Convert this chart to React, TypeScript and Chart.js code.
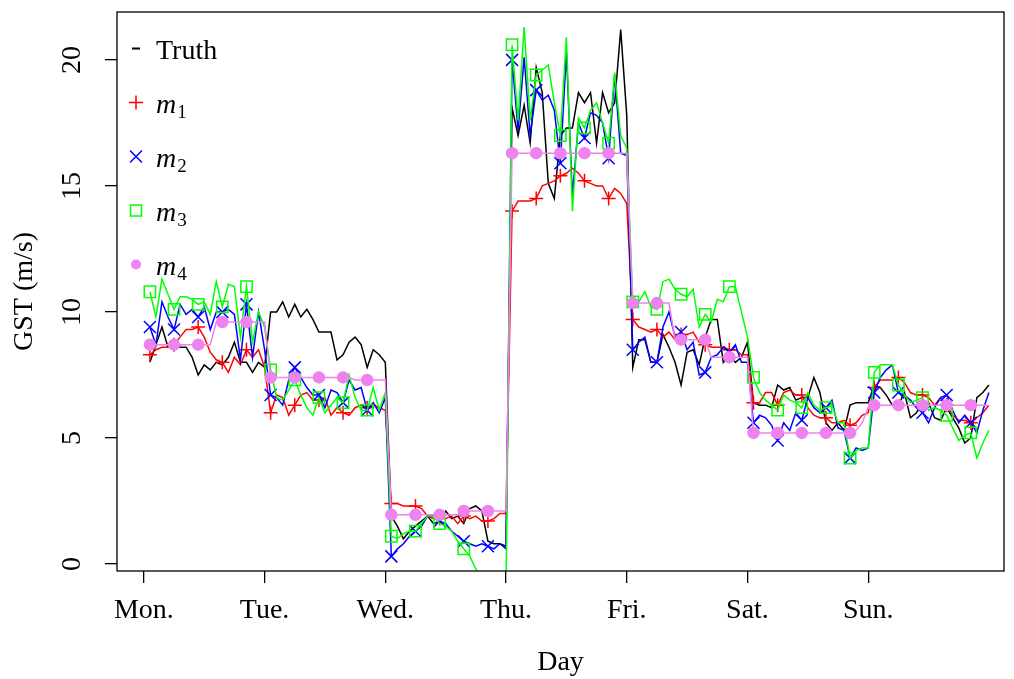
import React, { useEffect, useRef } from 'react';
import { Chart, registerables } from 'chart.js';

Chart.register(...registerables);

// ---------- data ----------
const dayLabels = ['Mon.', 'Tue.', 'Wed.', 'Thu.', 'Fri.', 'Sat.', 'Sun.'];
const dayTickIndex = [-1, 19, 39, 59, 79, 99, 119];
const yTickValues = [0, 5, 10, 15, 20];
const seriesNames = ['Truth', 'm1', 'm2', 'm3', 'm4'];
const xLabel = 'Day';
const yLabel = 'GST (m/s)';

const truth = [
  8.0, 8.7, 9.4, 8.6, 8.6, 8.6, 8.6, 8.2, 7.5, 7.9, 7.7, 8.0, 7.9, 8.2, 8.8, 8.0, 8.0, 7.6, 8.0, 7.8,
  10.0, 10.0, 10.4, 9.8, 10.3, 9.8, 10.1, 9.7, 9.2, 9.2, 9.2, 8.1, 8.3, 8.8, 9.0, 8.7, 7.8, 8.5, 8.3, 8.0,
  1.9, 1.5, 1.0, 1.3, 1.5, 1.7, 1.9, 1.6, 1.7, 2.1, 1.8, 1.9, 1.6, 2.2, 2.3, 2.1, 0.9, 0.8, 0.8, 0.7,
  18.1, 17.0, 18.2, 16.7, 19.7, 18.7, 15.1, 14.5, 17.0, 17.3, 17.3, 18.7, 18.3, 18.7, 16.7, 18.7, 17.9, 18.3, 21.2, 17.8,
  7.8, 8.9, 8.9, 8.0, 8.0, 9.1, 8.6, 8.0, 7.1, 8.4, 8.5, 7.9, 9.0, 9.7, 9.7, 8.0, 8.3, 8.0, 8.2, 8.8,
  6.4, 6.3, 6.3, 6.2, 7.1, 6.9, 7.0, 6.5, 6.6, 6.6, 7.4, 6.8, 5.6, 5.3, 5.6, 5.3, 6.3, 6.4, 6.4, 6.4,
  7.1, 7.0, 6.7, 6.3, 6.3, 6.8, 5.8, 6.0, 6.4, 6.4, 5.8, 5.7, 6.2, 5.8, 5.4, 4.8, 5.0, 6.6, 6.8, 7.1,
];

const m1 = [
  8.3, 8.5, 8.6, 8.6, 8.7, 9.0, 9.3, 9.3, 9.4, 9.0, 8.4, 8.1, 8.0, 7.6, 8.2, 7.9, 8.5, 8.2, 8.5, 7.8,
  6.0, 6.7, 6.6, 5.9, 6.3, 6.7, 6.8, 6.5, 6.5, 6.6, 5.9, 6.2, 6.0, 5.9, 6.2, 6.3, 6.2, 6.3, 6.2, 6.1,
  2.4, 2.4, 2.3, 2.3, 2.3, 2.2, 1.9, 1.8, 1.8, 1.8, 1.9, 1.6, 1.9, 1.8, 1.9, 1.7, 1.7, 1.8, 2.0, 2.0,
  14.0, 14.4, 14.4, 14.4, 14.5, 15.0, 15.1, 15.2, 15.4, 15.5, 15.7, 15.5, 15.2, 15.1, 15.0, 15.0, 14.5, 14.9, 14.7, 14.3,
  9.7, 9.4, 9.3, 9.2, 9.3, 9.0, 9.2, 8.9, 9.1, 9.1, 9.2, 8.8, 8.7, 8.6, 8.6, 8.6, 8.5, 8.5, 8.3, 8.3,
  6.4, 6.4, 6.8, 6.8, 6.3, 6.8, 6.9, 6.7, 6.7, 6.2, 5.9, 5.8, 5.8, 5.6, 5.6, 5.7, 5.5, 5.6, 5.9, 6.0,
  7.0, 7.3, 7.3, 7.3, 7.4, 7.2, 6.8, 6.7, 6.7, 6.6, 6.3, 6.6, 6.3, 5.9, 5.7, 5.7, 5.6, 5.8, 6.0, 6.3,
];

const m2 = [
  9.4, 8.7, 10.4, 9.8, 9.3, 10.3, 9.9, 10.1, 9.8, 10.2, 9.3, 10.0, 10.0, 10.1, 9.9, 8.1, 10.3, 8.2, 10.0, 8.5,
  6.7, 6.6, 6.3, 7.3, 7.8, 7.4, 7.0, 6.7, 6.7, 6.2, 6.9, 6.8, 6.4, 7.3, 6.9, 7.0, 6.1, 6.4, 6.0, 6.6,
  0.3, 0.6, 0.8, 1.1, 1.3, 1.5, 1.9, 1.9, 1.7, 1.6, 1.3, 1.1, 0.9, 0.8, 0.7, 0.8, 0.7, 0.6, 0.8, 0.6,
  20.0, 17.2, 20.1, 17.0, 18.8, 18.4, 18.6, 18.0, 15.9, 20.3, 14.6, 17.5, 16.9, 17.9, 17.8, 17.5, 16.1, 19.4, 16.3, 16.2,
  8.5, 8.8, 9.0, 8.0, 8.0, 9.4, 10.0, 9.0, 9.2, 8.5, 8.8, 7.5, 7.6, 8.2, 8.3, 8.6, 8.4, 8.7, 8.0, 8.0,
  5.6, 5.9, 5.8, 5.5, 4.9, 5.6, 5.3, 6.0, 5.7, 6.6, 6.2, 6.0, 6.2, 6.5, 5.4, 5.3, 4.2, 4.6, 4.5, 4.6,
  6.8, 7.4, 7.7, 7.9, 6.8, 6.7, 6.5, 6.2, 6.0, 5.6, 6.2, 6.6, 6.7, 6.1, 5.6, 5.9, 5.6, 5.2, 6.1, 6.8,
];

const m3 = [
  10.8, 9.8, 11.3, 10.7, 10.1, 10.6, 10.6, 10.5, 10.3, 10.4, 9.9, 11.2, 10.2, 11.1, 11.0, 9.0, 11.0, 8.8, 10.0, 9.4,
  7.7, 6.6, 6.5, 6.9, 7.3, 6.7, 6.2, 5.9, 6.6, 6.0, 6.3, 6.6, 6.4, 7.5, 6.6, 6.1, 6.1, 7.0, 6.1, 6.8,
  1.1, 1.0, 1.2, 1.3, 1.3, 1.6, 1.9, 1.9, 1.6, 1.5, 1.3, 0.9, 0.6, 0.3, -0.2, -0.6, -0.8, -0.9, -1.0, -1.0,
  20.6, 17.6, 21.3, 17.6, 19.4, 19.6, 19.8, 18.3, 17.0, 20.9, 14.0, 17.7, 17.3, 18.0, 18.3, 17.5, 16.7, 19.5, 17.0, 16.5,
  10.4, 10.4, 10.8, 10.2, 10.1, 11.2, 11.3, 10.9, 10.7, 10.6, 10.9, 9.4, 9.9, 9.6, 10.5, 10.4, 11.0, 11.0, 10.0, 9.0,
  7.4, 6.8, 6.5, 6.3, 6.1, 6.7, 6.5, 6.4, 6.2, 6.8, 6.3, 6.1, 6.2, 6.3, 5.6, 5.6, 4.2, 4.5, 4.6, 4.6,
  7.6, 7.9, 7.9, 7.9, 7.1, 6.7, 6.4, 6.5, 6.6, 6.1, 6.2, 6.1, 5.9, 5.4, 4.9, 5.1, 5.2, 4.2, 4.8, 5.3,
];

const m4 = [
  8.7, 8.7, 8.7, 8.7, 8.7, 8.7, 8.7, 8.7, 8.7, 8.7, 8.7, 9.6, 9.6, 9.6, 9.6, 9.6, 9.6, 9.6, 9.6, 9.6,
  7.4, 7.4, 7.4, 7.4, 7.4, 7.4, 7.4, 7.4, 7.4, 7.4, 7.4, 7.4, 7.4, 7.4, 7.3, 7.3, 7.3, 7.3, 7.3, 7.3,
  1.95, 1.95, 1.95, 1.95, 1.95, 1.95, 1.95, 1.95, 1.95, 1.95, 1.95, 1.95, 2.1, 2.1, 2.1, 2.1, 2.1, 2.1, 2.1, 2.1,
  16.3, 16.3, 16.3, 16.3, 16.3, 16.3, 16.3, 16.3, 16.3, 16.3, 16.3, 16.3, 16.3, 16.3, 16.3, 16.3, 16.3, 16.3, 16.3, 16.3,
  10.35, 10.35, 10.35, 10.35, 10.35, 10.35, 10.35, 8.9, 8.9, 8.9, 8.9, 8.9, 8.9, 8.2, 8.2, 8.2, 8.2, 8.2, 8.2, 8.2,
  5.2, 5.2, 5.2, 5.2, 5.2, 5.2, 5.2, 5.2, 5.2, 5.2, 5.2, 5.2, 5.2, 5.2, 5.2, 5.2, 5.2, 5.3, 5.6, 6.2,
  6.3, 6.3, 6.3, 6.3, 6.3, 6.3, 6.3, 6.3, 6.3, 6.3, 6.3, 6.3, 6.3, 6.3, 6.3, 6.3, 6.3, 6.3, 6.3, 6.3,
];

// ---------- styles ----------
const FONT = '"Liberation Serif", "Times New Roman", serif';
const colors = ['#000000', '#FF0000', '#0000FF', '#00FF00', '#EE82EE'];
const markerStyles = ['dash', 'cross', 'crossRot', 'rect', 'circle'];
const markerRadius = [0, 7, 8.5, 8, 5.5];
const MARK_EVERY = 4;

const toPoints = (arr: number[]) => arr.map((v, j) => ({ x: j, y: v }));

function drawMarker(ctx: CanvasRenderingContext2D, style: string, x: number, y: number, color: string) {
  ctx.save();
  ctx.strokeStyle = color;
  ctx.fillStyle = color;
  ctx.lineWidth = 1.5;
  ctx.beginPath();
  if (style === 'dash') {
    ctx.lineWidth = 2;
    ctx.moveTo(x - 4, y);
    ctx.lineTo(x + 4, y);
    ctx.stroke();
  } else if (style === 'cross') {
    ctx.moveTo(x - 7, y);
    ctx.lineTo(x + 7, y);
    ctx.moveTo(x, y - 7);
    ctx.lineTo(x, y + 7);
    ctx.stroke();
  } else if (style === 'crossRot') {
    const d = 6;
    ctx.moveTo(x - d, y - d);
    ctx.lineTo(x + d, y + d);
    ctx.moveTo(x - d, y + d);
    ctx.lineTo(x + d, y - d);
    ctx.stroke();
  } else if (style === 'rect') {
    ctx.rect(x - 5.5, y - 5.5, 11, 11);
    ctx.stroke();
  } else {
    ctx.arc(x, y, 5, 0, Math.PI * 2);
    ctx.fill();
  }
  ctx.restore();
}

const boxPlugin = {
  id: 'boxFrame',
  afterDraw(chart: any) {
    const { ctx, chartArea: a } = chart;
    ctx.save();
    ctx.strokeStyle = '#000';
    ctx.lineWidth = 1.3;
    ctx.strokeRect(a.left, a.top, a.right - a.left, a.bottom - a.top);
    ctx.restore();
  },
};

const yLabelPlugin = {
  id: 'yRotLabels',
  afterDraw(chart: any) {
    const { ctx } = chart;
    const s = chart.scales.y;
    ctx.save();
    ctx.fillStyle = '#000';
    ctx.font = `28px ${FONT}`;
    ctx.textAlign = 'center';
    ctx.textBaseline = 'alphabetic';
    yTickValues.forEach((v) => {
      const y = s.getPixelForValue(v);
      ctx.save();
      ctx.translate(s.right - 37, y);
      ctx.rotate(-Math.PI / 2);
      ctx.fillText(String(v), 0, 0);
      ctx.restore();
    });
    ctx.restore();
  },
};

const legendPlugin = {
  id: 'rLegend',
  afterDraw(chart: any) {
    const { ctx, chartArea: a } = chart;
    const symX = a.left + 19;
    const textX = a.left + 39;
    chart.data.datasets.forEach((ds: any, k: number) => {
      const base = a.top + 47 + k * 54;
      drawMarker(ctx, markerStyles[k], symX, base - 10.5, colors[k]);
      ctx.save();
      ctx.fillStyle = '#000';
      ctx.textBaseline = 'alphabetic';
      ctx.textAlign = 'left';
      const m = /^m(\d)$/.exec(ds.label);
      if (m) {
        ctx.font = `italic 28px ${FONT}`;
        ctx.fillText('m', textX, base);
        const w = ctx.measureText('m').width;
        ctx.font = `19px ${FONT}`;
        ctx.fillText(m[1], textX + w + 1, base + 5);
      } else {
        ctx.font = `28px ${FONT}`;
        ctx.fillText(ds.label, textX, base);
      }
      ctx.restore();
    });
  },
};

export default function App() {
  const canvasRef = useRef<HTMLCanvasElement | null>(null);

  useEffect(() => {
    const canvas = canvasRef.current;
    if (!canvas) return;
    const series = [truth, m1, m2, m3, m4];
    const datasets = series.map((arr, k) => ({
      label: seriesNames[k],
      data: toPoints(arr),
      borderColor: colors[k],
      backgroundColor: colors[k],
      borderWidth: 1.5,
      tension: 0,
      order: 4 - k,
      pointStyle: k === 0 ? 'circle' : markerStyles[k],
      pointRadius: (c: any) => (k > 0 && c.dataIndex % MARK_EVERY === 0 ? markerRadius[k] : 0),
      pointBorderWidth: 1.5,
      pointBorderColor: colors[k],
      pointBackgroundColor: k === 4 ? colors[k] : 'rgba(0,0,0,0)',
      pointHoverRadius: 0,
    }));

    const chart = new Chart(canvas, {
      type: 'line',
      data: { datasets },
      plugins: [boxPlugin, yLabelPlugin, legendPlugin],
      options: {
        animation: false,
        responsive: false,
        devicePixelRatio: 1,
        events: [],
        layout: { padding: { top: 12, right: 8, left: 0, bottom: 0 } },
        plugins: { legend: { display: false }, tooltip: { enabled: false } },
        scales: {
          x: {
            type: 'linear',
            min: -5.45,
            max: 141.5,
            border: { display: false },
            grid: { drawOnChartArea: false, drawTicks: true, tickLength: 12, color: '#000', lineWidth: 1.3 },
            afterBuildTicks: (s: any) => {
              s.ticks = dayTickIndex.map((v) => ({ value: v }));
            },
            afterFit: (s: any) => {
              s.height = 108;
            },
            ticks: {
              autoSkip: false,
              maxRotation: 0,
              minRotation: 0,
              padding: 11,
              color: '#000',
              font: { family: FONT, size: 28 },
              callback: (_v: any, i: number) => dayLabels[i],
            },
            title: {
              display: true,
              text: xLabel,
              color: '#000',
              font: { family: FONT, size: 28 },
              padding: { top: 0, bottom: 0 },
            },
          },
          y: {
            type: 'linear',
            min: -0.28,
            max: 21.9,
            border: { display: false },
            grid: { drawOnChartArea: false, drawTicks: true, tickLength: 12, color: '#000', lineWidth: 1.3 },
            afterBuildTicks: (s: any) => {
              s.ticks = yTickValues.map((v) => ({ value: v }));
            },
            afterFit: (s: any) => {
              s.width = 117;
            },
            ticks: { display: false },
            title: {
              display: true,
              text: yLabel,
              color: '#000',
              font: { family: FONT, size: 28 },
              padding: { top: 8, bottom: 0 },
            },
          },
        },
      },
    } as any);

    return () => chart.destroy();
  }, []);

  return (
    <div style={{ position: 'fixed', left: 0, top: 0, width: 1014, height: 679, background: '#fff' }}>
      <canvas ref={canvasRef} width={1014} height={679} style={{ display: 'block' }} />
    </div>
  );
}
